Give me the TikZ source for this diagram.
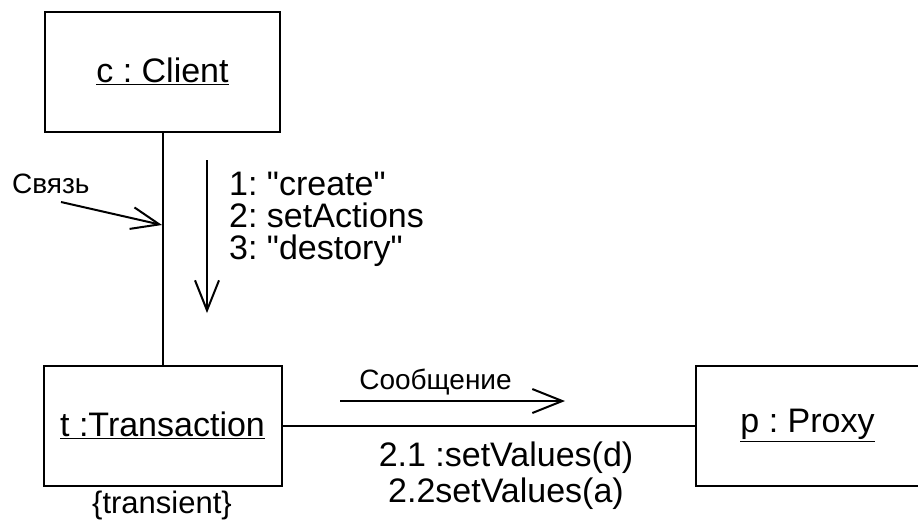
\documentclass[tikz,border=0pt]{standalone}
\usepackage{fontspec}
\setmainfont{Liberation Sans}
\usetikzlibrary{positioning, arrows.meta}
\frenchspacing
\tikzset{
    object/.style={
        rectangle,
        draw=black,
        line width=2pt,
        minimum height=120pt,
        inner sep=0pt,
        font=\fontsize{34}{36}\selectfont,
    },
    link/.style={
        line width=2pt,
    },
    msgtext/.style={
        inner sep=0pt,
        font=\fontsize{34}{32}\selectfont,
    },
    smalltext/.style={
        inner sep=0pt,
        font=\fontsize{28}{30}\selectfont,
    },
}

\begin{document}
\begin{tikzpicture}[x=1pt, y=-1pt, node distance=232pt and 412pt,
    >={Straight Barb[length=30pt, width=24pt]}]
      \useasboundingbox (0,0) rectangle (918,520);

      \node [object, minimum width=235pt] (client) at (162.5,71.5) {\underline{c : Client}};
      \node [object, minimum width=238pt, below=of client] (trans) {\underline{t :Transaction}};
      \node [object, minimum width=224pt, right=of trans] (proxy) {\underline{p : Proxy}};

      \draw [link] (client) -- (trans);
      \draw [link] (trans) -- (proxy);

      % link note
      \node [smalltext, anchor=base west] (link-note) at (12,193) {Связь};
      \coordinate (link-from) at (61,202);
      \coordinate (link-to) at (162,225);
      \draw [link, ->, >={Straight Barb[length=28pt, width=22pt]}] (link-from) -- (link-to);

      % messages client -> transaction
      \coordinate (msg-start) at (207,160);
      \coordinate (msg-end) at (207,313);
      \draw [link, ->] (msg-start) -- (msg-end);
      \node [msgtext, anchor=north west, align=left] (msgs) at (229,172)
            {1: \textquotedbl create\textquotedbl\\2: setActions\\3: \textquotedbl destory\textquotedbl};

      % message transaction -> proxy
      \node [smalltext, anchor=base] (msg-note) at (435.5,389) {Сообщение};
      \coordinate (call-start) at (340,401);
      \coordinate (call-end) at (565,401);
      \draw [link, ->] (call-start) -- (call-end);
      \node [msgtext, anchor=north, align=center, font=\fontsize{34}{36}\selectfont] (calls) at (506,442)
            {2.1 :setValues(d)\\2.2setValues(a)};

      \node [msgtext, anchor=base, font=\fontsize{31}{32}\selectfont] (constraint) at (162,513) {\{transient\}};
    \end{tikzpicture}
\end{document}
